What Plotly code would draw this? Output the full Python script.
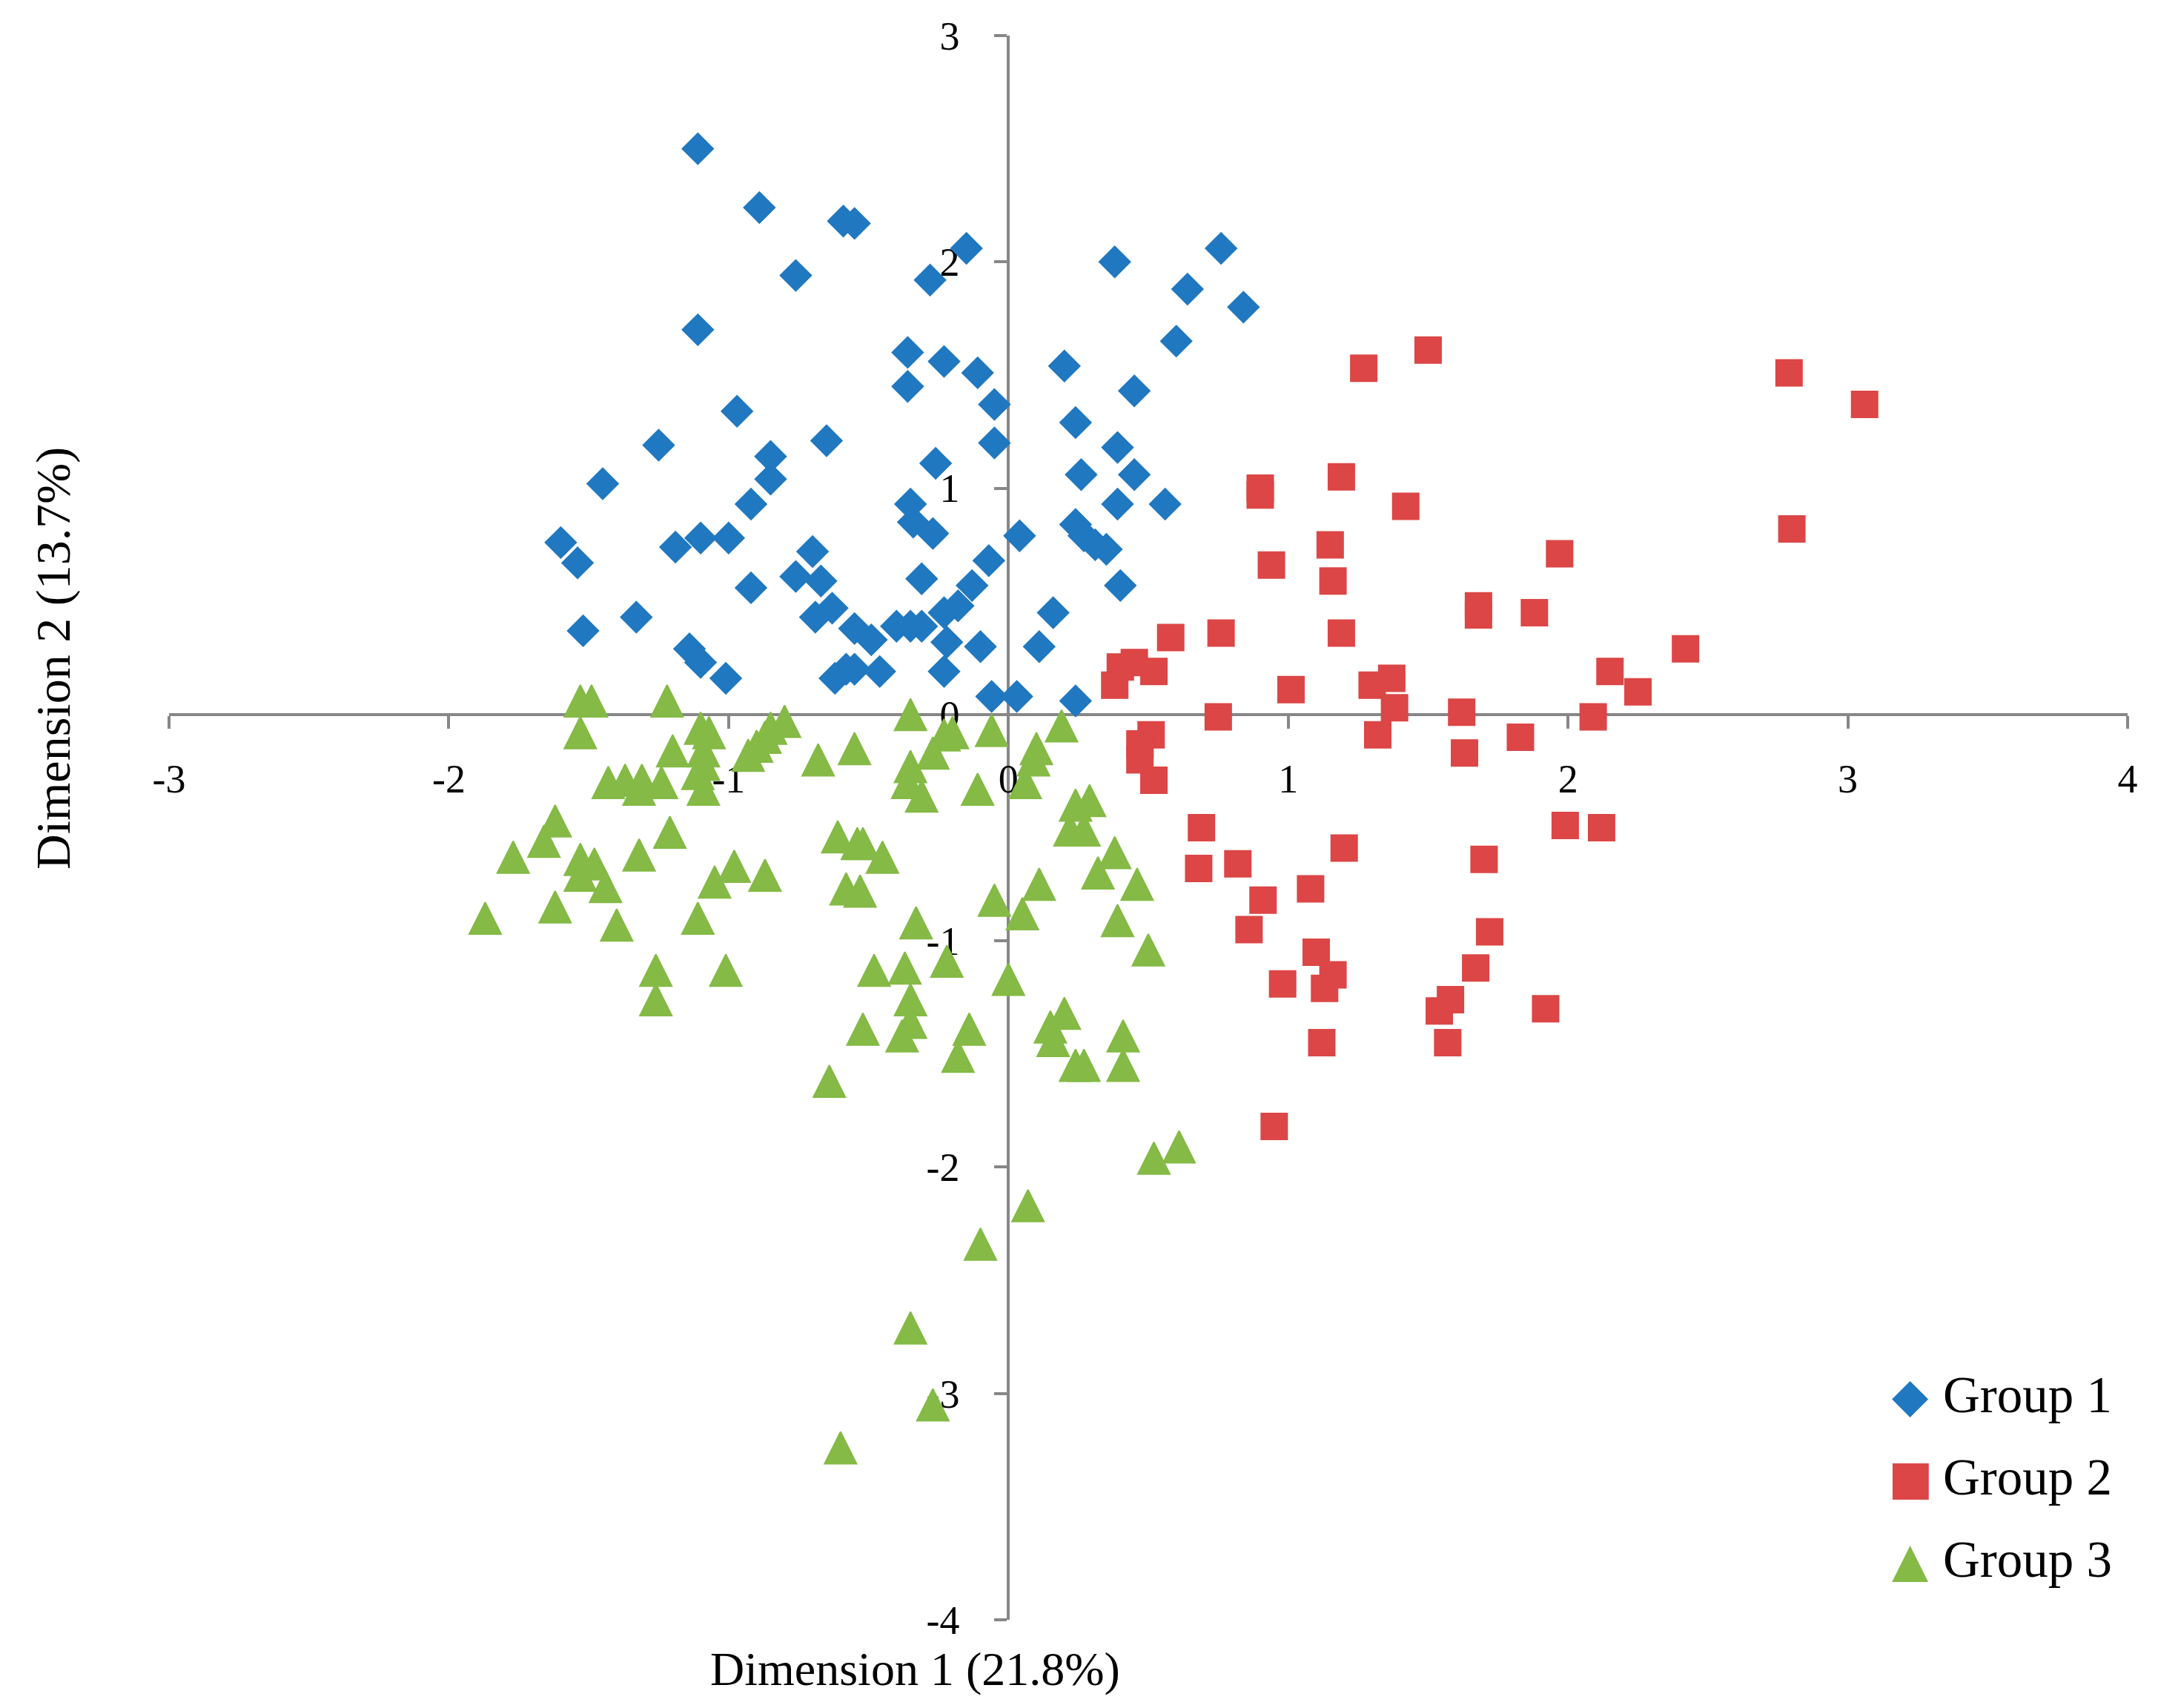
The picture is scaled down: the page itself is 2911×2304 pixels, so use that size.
import plotly.graph_objects as go

# ---- data ----
group_names = ['Group 1', 'Group 2', 'Group 3']

# Group 1 (blue diamonds)
g1_x = [-1.11, -0.89, -0.59, -0.55, -0.15, -0.76, -0.28, 0.38, 0.76, 0.64,
        0.84, 0.60, -1.11, -0.36, -0.23, -0.11, -0.36, 0.20, 0.45, -0.05,
        -0.97, 0.24, -1.25, -0.65, -0.05, -0.85, 0.39, -0.26, -0.85, 0.26,
        0.45, -1.45, -0.92, -0.35, 0.39, 0.56, -0.34, -0.27, -1.60, -1.54,
        -1.19, -1.10, -1.00, -0.70, 0.04, 0.24, 0.27, 0.31, 0.35, -0.76,
        -0.67, -0.92, -0.31, -0.07, -0.13, 0.40, -0.63, -0.69, 0.16, -1.33,
        -1.52, -0.55, -0.49, -0.40, -0.35, -0.31, -0.23, -0.18, -0.22, -0.10,
        0.11, -1.14, -1.10, -1.01, -0.62, -0.58, -0.55, -0.46, -0.23, -0.06,
        0.03, 0.24]
g1_y = [2.50, 2.24, 2.18, 2.17, 2.06, 1.94, 1.92, 2.00, 2.06, 1.88,
        1.80, 1.65, 1.70, 1.60, 1.56, 1.51, 1.45, 1.54, 1.43, 1.37,
        1.34, 1.29, 1.19, 1.21, 1.20, 1.14, 1.18, 1.11, 1.04, 1.06,
        1.06, 1.02, 0.93, 0.93, 0.93, 0.93, 0.85, 0.80, 0.76, 0.67,
        0.74, 0.78, 0.78, 0.72, 0.79, 0.84, 0.79, 0.75, 0.73, 0.61,
        0.59, 0.56, 0.60, 0.68, 0.57, 0.57, 0.47, 0.43, 0.45, 0.43,
        0.37, 0.38, 0.33, 0.39, 0.39, 0.39, 0.45, 0.48, 0.32, 0.30,
        0.30, 0.29, 0.23, 0.16, 0.16, 0.20, 0.20, 0.19, 0.19, 0.08,
        0.08, 0.06]

# Group 2 (red squares)
g2_x = [1.27, 1.50, 2.79, 3.06, 2.80, 1.19, 0.90, 0.90, 1.42, 1.15,
        1.97, 0.94, 1.16, 1.68, 1.68, 1.88, 0.76, 1.19, 0.58, 2.42,
        0.45, 0.40, 0.52, 0.38, 1.01, 1.30, 1.37, 2.15, 2.25, 1.38,
        0.75, 1.62, 2.09, 0.51, 0.47, 0.47, 0.52, 1.32, 1.63, 1.83,
        0.69, 0.68, 0.82, 1.20, 1.99, 2.12, 1.70, 0.91, 1.08, 0.86,
        1.72, 1.10, 1.16, 1.13, 0.98, 1.67, 1.58, 1.54, 1.92, 1.12,
        1.57, 0.95]
g2_y = [1.53, 1.61, 1.51, 1.37, 0.82, 1.05, 1.00, 0.97, 0.92, 0.75,
        0.71, 0.66, 0.59, 0.48, 0.44, 0.45, 0.36, 0.36, 0.34, 0.29,
        0.23, 0.21, 0.19, 0.13, 0.11, 0.13, 0.16, 0.19, 0.10, 0.03,
        -0.01, 0.01, -0.01, -0.09, -0.13, -0.20, -0.29, -0.09, -0.17, -0.10,
        -0.50, -0.68, -0.66, -0.59, -0.49, -0.50, -0.64, -0.82, -0.77, -0.95,
        -0.96, -1.05, -1.15, -1.21, -1.19, -1.12, -1.26, -1.31, -1.30, -1.45,
        -1.45, -1.82]

# Group 3 (green triangles)
g3_x = [-1.53, -1.49, -1.22, -1.53, -1.10, -1.07, -1.09, -1.20, -1.09, -1.11,
        -1.09, -0.80, -0.85, -0.87, -0.90, -0.93, -0.68, -0.55, -0.35, -0.23,
        -0.20, -0.27, -0.35, -0.36, -0.31, -0.11, -0.06, 0.19, 0.10, 0.09,
        0.06, -1.43, -1.37, -1.31, -1.32, -1.24, -1.62, -1.66, -1.77, -1.21,
        -1.32, -1.53, -1.48, -1.53, -1.44, -0.98, -1.05, -0.87, -0.61, -0.54,
        -0.52, -0.45, -0.58, -0.53, 0.24, 0.29, 0.22, 0.27, 0.38, 0.32,
        0.46, -0.05, 0.11, 0.05, 0.39, 0.50, -1.87, -1.62, -1.40, -1.11,
        -0.33, -1.26, -1.01, -1.26, -0.48, -0.37, -0.22, 0.00, -0.35, -0.35,
        -0.38, -0.52, -0.14, -0.18, 0.15, 0.20, 0.16, 0.24, 0.27, 0.41,
        0.41, -0.64, 0.52, 0.61, 0.07, -0.10, -0.35, -0.27, -0.60]
g3_y = [0.06, 0.06, 0.06, -0.08, -0.06, -0.08, -0.16, -0.16, -0.22, -0.26,
        -0.33, -0.03, -0.06, -0.10, -0.14, -0.18, -0.20, -0.15, 0.00, -0.09,
        -0.08, -0.17, -0.23, -0.30, -0.36, -0.33, -0.07, -0.05, -0.15, -0.20,
        -0.30, -0.30, -0.29, -0.29, -0.33, -0.30, -0.47, -0.56, -0.63, -0.52,
        -0.62, -0.64, -0.66, -0.71, -0.76, -0.67, -0.74, -0.71, -0.54, -0.57,
        -0.57, -0.63, -0.77, -0.78, -0.40, -0.38, -0.51, -0.51, -0.61, -0.70,
        -0.75, -0.82, -0.75, -0.88, -0.91, -1.04, -0.90, -0.85, -0.93, -0.90,
        -0.92, -1.13, -1.13, -1.26, -1.13, -1.12, -1.09, -1.17, -1.26, -1.36,
        -1.42, -1.39, -1.39, -1.51, -1.38, -1.32, -1.44, -1.55, -1.55, -1.42,
        -1.55, -1.62, -1.96, -1.91, -2.17, -2.34, -2.71, -3.05, -3.24]

x_ticks = [-3, -2, -1, 0, 1, 2, 3, 4]
x_tick_labels = ['-3', '-2', '-1', '0', '1', '2', '3', '4']
y_ticks = [-4, -3, -2, -1, 0, 1, 2, 3]
y_tick_labels = ['-4', '-3', '-2', '-1', '0', '1', '2', '3']
x_title = 'Dimension 1 (21.8%)'
y_title = 'Dimension 2 (13.7%)'

# ---- styling ----
W, H = 2911, 2304
BLUE = '#2078c0'
RED = '#dc4646'
GREEN = '#84ba45'
AXIS = '#878787'
SERIF = 'Liberation Serif'

x_range = [-3, 4]
y_range = [-4, 3]

fig = go.Figure()

fig.add_trace(go.Scatter(
    x=g1_x, y=g1_y, mode='markers', name=group_names[0],
    marker=dict(symbol='diamond', size=32, color=BLUE,
                line=dict(color=BLUE, width=2))
))
fig.add_trace(go.Scatter(
    x=g2_x, y=g2_y, mode='markers', name=group_names[1],
    marker=dict(symbol='square', size=35, color=RED,
                line=dict(color=RED, width=2))
))
# arrow-down turned 180 deg and pushed back by half its size gives an
# upward triangle as wide as it is tall, centred on the point (like Excel)
fig.add_trace(go.Scatter(
    x=g3_x, y=g3_y, mode='markers', name=group_names[2],
    marker=dict(symbol='arrow-down', angle=180, standoff=21.5, size=43,
                color=GREEN, line=dict(color=GREEN, width=2))
))

# axes cross at the origin
axis_common = dict(
    showline=True, linecolor=AXIS, linewidth=4,
    ticks='outside', ticklen=17, tickwidth=4, tickcolor=AXIS,
    showgrid=False, zeroline=False, layer='below traces',
    tickfont=dict(family=SERIF, size=54, color='black'),
    anchor='free', automargin=False,
)
fig.update_layout(
    xaxis=dict(range=x_range, tickvals=x_ticks, ticktext=x_tick_labels,
               position=(0 - y_range[0]) / (y_range[1] - y_range[0]),
               ticklabelstandoff=21, **axis_common),
    yaxis=dict(range=y_range, tickvals=y_ticks, ticktext=y_tick_labels,
               position=(0 - x_range[0]) / (x_range[1] - x_range[0]),
               ticklabelstandoff=36, **axis_common),
    width=W, height=H,
    margin=dict(l=220, r=49, t=40, b=127),
    plot_bgcolor='white', paper_bgcolor='white',
    showlegend=False,
)

# axis titles (Excel puts them at the outer edges, not at the crossing axes)
fig.add_annotation(text=x_title, xref='paper', yref='paper', x=0.381, y=-0.031,
                   xanchor='center', yanchor='middle', showarrow=False,
                   font=dict(family=SERIF, size=64, color='black'))
fig.add_annotation(text=y_title, xref='paper', yref='paper', x=-0.059, y=0.607,
                   xanchor='center', yanchor='middle', showarrow=False, textangle=-90,
                   font=dict(family=SERIF, size=66, color='black'))

# legend in the lower right, drawn as text so the symbols keep their size
glyphs = ['\u25c6', '\u25a0', '\u25b2']
colors = [BLUE, RED, GREEN]
rows_y = [0.142, 0.090, 0.038]
for name, glyph, col, yy in zip(group_names, glyphs, colors, rows_y):
    fig.add_annotation(text=glyph, xref='paper', yref='paper', x=0.889, y=yy,
                       xanchor='center', yanchor='middle', showarrow=False,
                       font=dict(family='DejaVu Sans', size=64, color=col))
    fig.add_annotation(text=name, xref='paper', yref='paper', x=0.905, y=yy,
                       xanchor='left', yanchor='middle', showarrow=False,
                       font=dict(family=SERIF, size=69, color='black'))

fig.write_html("out.html")
